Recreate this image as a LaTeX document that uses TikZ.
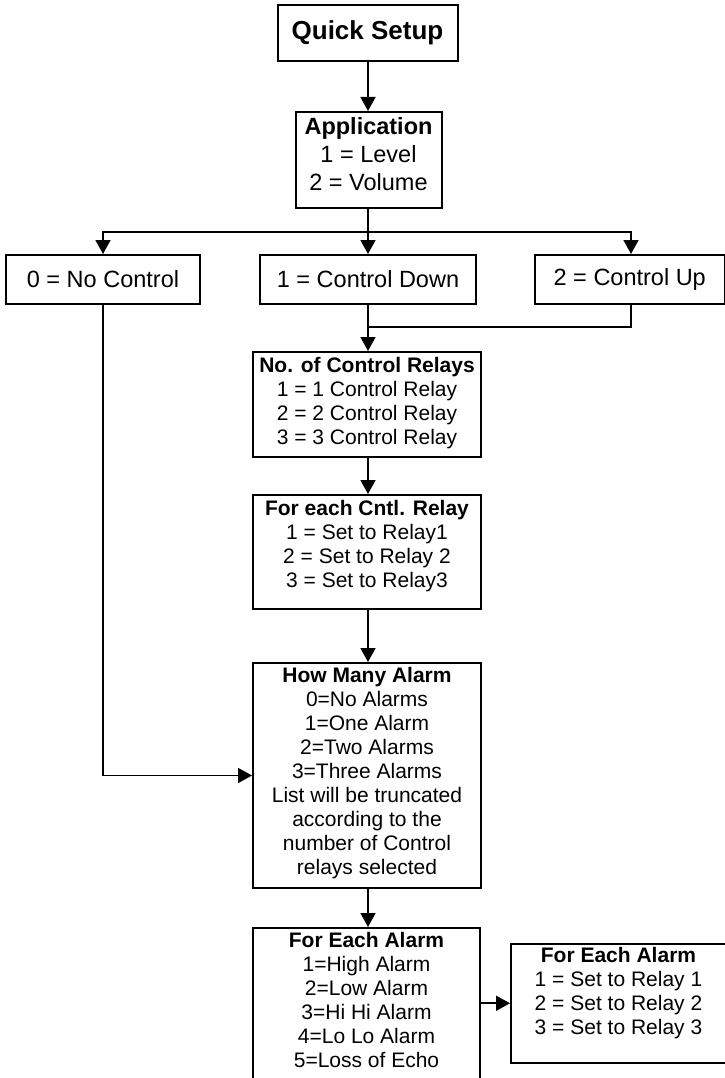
\documentclass[tikz,border=0pt]{standalone}
\usepackage{fontspec}
\setmainfont{Liberation Sans}
\usetikzlibrary{arrows.meta}
\begin{document}
\begin{tikzpicture}[x=1pt,y=-1pt,
  box/.style={draw=black, line width=2pt, rectangle, inner sep=0pt},
  txt/.style={align=center, inner sep=0pt, anchor=north, font=\fontsize{21}{24}\selectfont},
  bigtxt/.style={align=center, inner sep=0pt, anchor=north, font=\fontsize{23.5}{28}\selectfont},
  bigfont/.style={font=\fontsize{23.5}{28}\selectfont},
  conn/.style={line width=1.6pt},
  arr/.style={conn, -{Triangle[length=14pt,width=15pt]}}
]
\useasboundingbox (0,0) rectangle (724,1078);
\fill[white] (0,0) rectangle (724,1078);

% boxes
\node[box, minimum width=180pt, minimum height=56pt, font=\fontsize{26}{30}\selectfont\bfseries] (qs) at (367.5,33) {Quick Setup};
\node[box, minimum width=146pt, minimum height=96pt] (app) at (368.5,160) {};
\node[bigtxt] (appT) at ([yshift=-5.9pt]app.north) {\textbf{Application}\\1 = Level\\2 = Volume};

\node[box, bigfont, minimum width=194pt, minimum height=49pt] (b0) at (103,279.5) {0 = No Control};
\node[box, bigfont, minimum width=216pt, minimum height=49pt] (b1) at (368,279.5) {1 = Control Down};
\node[box, bigfont, minimum width=189.5pt, minimum height=49pt] (b2) at (629.75,279.5) {2 = Control Up};

\node[box, minimum width=228pt, minimum height=105pt] (ncr) at (367,404.5) {};
\node[txt] (ncrT) at ([yshift=-6pt]ncr.north) {\textbf{No. of Control Relays}\\1 = 1 Control Relay\\2 = 2 Control Relay\\3 = 3 Control Relay};

\node[box, minimum width=228pt, minimum height=114pt] (fec) at (367,552) {};
\node[txt] (fecT) at ([yshift=-6.4pt]fec.north) {\textbf{For each Cntl. Relay}\\1 = Set to Relay1\\2 = Set to Relay 2\\3 = Set to Relay3};

\node[box, minimum width=228pt, minimum height=225pt] (hma) at (367,775.5) {};
\node[txt] (hmaT) at ([yshift=-5.3pt]hma.north) {\textbf{How Many Alarm}\\0=No Alarms\\1=One Alarm\\2=Two Alarms\\3=Three Alarms\\List will be truncated\\according to the\\number of Control\\relays selected};

\node[box, minimum width=227pt, minimum height=162pt] (fea) at (366.5,1009) {};
\node[txt] (feaT) at ([yshift=-5pt]fea.north) {\textbf{For Each Alarm}\\1=High Alarm\\2=Low Alarm\\3=Hi Hi Alarm\\4=Lo Lo Alarm\\5=Loss of Echo};

\node[box, minimum width=215pt, minimum height=119.5pt] (rfa) at (618.5,1003.25) {};
\node[txt] (rfaT) at ([yshift=-4.5pt]rfa.north) {\textbf{For Each Alarm}\\1 = Set to Relay 1\\2 = Set to Relay 2\\3 = Set to Relay 3};

% connectors
\coordinate (split) at (368,232);
\coordinate (merge) at (368,327);
\draw[arr] (qs.south -| b1.north) -- (app.north -| b1.north);
\draw[arr] (app.south -| b1.north) -- (b1.north);
\draw[arr] (split) -| (b0.north);
\draw[arr] (split) -| ([xshift=1.25pt]b2.north);
\draw[arr] (b1.south) -- (ncr.north -| b1.south);
\draw[conn] ([xshift=1.25pt]b2.south) |- (merge);
\draw[arr] (ncr.south -| b1.south) -- (fec.north -| b1.south);
\draw[arr] (fec.south -| b1.south) -- (hma.north -| b1.south);
\draw[arr] (b0.south) |- (hma.west);
\draw[arr] (hma.south -| b1.south) -- (fea.north -| b1.south);
\draw[arr] (fea.east |- rfa.west) -- (rfa.west);
\end{tikzpicture}
\end{document}
